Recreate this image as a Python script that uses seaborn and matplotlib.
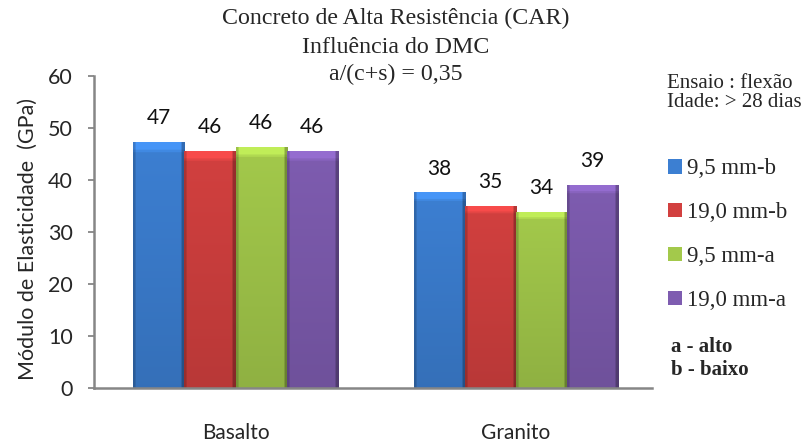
import numpy as np
import pandas as pd
import matplotlib
matplotlib.use("Agg")
import matplotlib.pyplot as plt
import matplotlib.colors as mcolors
from matplotlib.patches import Patch
import seaborn as sns

# Data: elastic modulus (GPa) by aggregate type and maximum aggregate size
rochas = ["Basalto", "Granito"]
dmc = ["9,5 mm-b", "19,0 mm-b", "9,5 mm-a", "19,0 mm-a"]
modulo_basalto = [47.3, 45.6, 46.3, 45.6]
modulo_granito = [37.6, 35.0, 33.8, 39.0]
y_ticks = [0, 10, 20, 30, 40, 50, 60]

cores = ["#3c7fd2", "#d2403f", "#a3c94b", "#7e5cb0"]

df = pd.DataFrame({
    "rocha": np.repeat(rochas, len(dmc)),
    "dmc": dmc * len(rochas),
    "modulo": modulo_basalto + modulo_granito,
})

sns.set_theme(style="white")
plt.rcParams["font.family"] = ["Lato", "DejaVu Sans"]
serif = ["Liberation Serif", "DejaVu Serif"]

fig = plt.figure(figsize=(8.06, 4.44), dpi=100)
ax = fig.add_axes([0.1166, 0.1255, 0.809 - 0.1166, 0.8295 - 0.1255])

sns.barplot(data=df, x="rocha", y="modulo", hue="dmc", hue_order=dmc,
            palette=cores, width=0.73, ax=ax, legend=False,
            edgecolor="none", linewidth=0, saturation=1)

ax.set_yticks(y_ticks)
ax.set_yticklabels([str(t) for t in y_ticks], fontsize=15.5)
ax.tick_params(axis="y", which="major", direction="out", length=4.3,
               width=1.3, color="#868686", pad=10.8, left=True)
ax.tick_params(axis="x", length=0, pad=25, labelsize=15)
for lado in ["top", "right"]:
    ax.spines[lado].set_visible(False)
for lado in ["left", "bottom"]:
    ax.spines[lado].set_color("#868686")
    ax.spines[lado].set_linewidth(1.8)
ax.set_xlabel("")
ax.set_ylabel("Módulo de Elasticidade  (GPa)", fontsize=15.5)
ax.yaxis.set_label_coords(-0.101, 0.479)

# Bevelled shading on each bar
for cont, cor in zip(ax.containers, cores):
    base = np.array(mcolors.to_rgb(cor))
    for p in cont:
        x, y0 = p.get_x(), p.get_y()
        w, h = p.get_width(), p.get_height()
        nx, ny = 60, 200
        fx = np.ones(nx)
        fx[:3] = 0.82
        fx[-4:] = 0.72
        fy = np.linspace(0.88, 1.0, ny)
        top = int(ny * 0.035)
        fy[-top:] = 1.18
        fy[-top - 2:-top] = 1.08
        img = np.clip(base[None, None, :] * fy[:, None, None] * fx[None, :, None], 0, 1)
        im = ax.imshow(img, extent=(x, x + w, y0, y0 + h), origin="lower",
                       aspect="auto", zorder=p.get_zorder() + 0.1,
                       interpolation="bilinear")
        im.set_clip_path(p)
    ax.bar_label(cont, fmt="%.0f", padding=10, fontsize=15, color="#111111")

ax.set_ylim(0, 60)
ax.set_xlim(-0.505, 1.486)

# Title block
titulo = ["Concreto de Alta Resistência (CAR)", "Influência do DMC", "a/(c+s) = 0,35"]
for linha, yb in zip(titulo, [0.946, 0.8806, 0.8198]):
    fig.text(0.4913, yb, linha, ha="center", va="baseline", fontsize=17.2,
             family=serif)

# Test information
fig.text(0.8275, 0.8018, "Ensaio : flexão", ha="left", va="baseline",
         fontsize=15, family=serif)
fig.text(0.8275, 0.759, "Idade: > 28 dias", ha="left", va="baseline",
         fontsize=15, family=serif)

# Legend
handles = [Patch(facecolor=c, edgecolor="none") for c in cores]
leg = fig.legend(handles, dmc, loc="upper left", bbox_to_anchor=(0.818, 0.664),
                 frameon=False, prop={"family": serif, "size": 16.5},
                 handlelength=0.6, handleheight=0.6, handletextpad=0.2,
                 labelspacing=1.0, borderaxespad=0)

fig.text(0.832, 0.2072, "a - alto", ha="left", va="baseline",
         fontsize=15, family=serif, fontweight="bold")
fig.text(0.832, 0.1554, "b - baixo", ha="left", va="baseline",
         fontsize=15, family=serif, fontweight="bold")

fig.savefig("out.png", dpi=100)
